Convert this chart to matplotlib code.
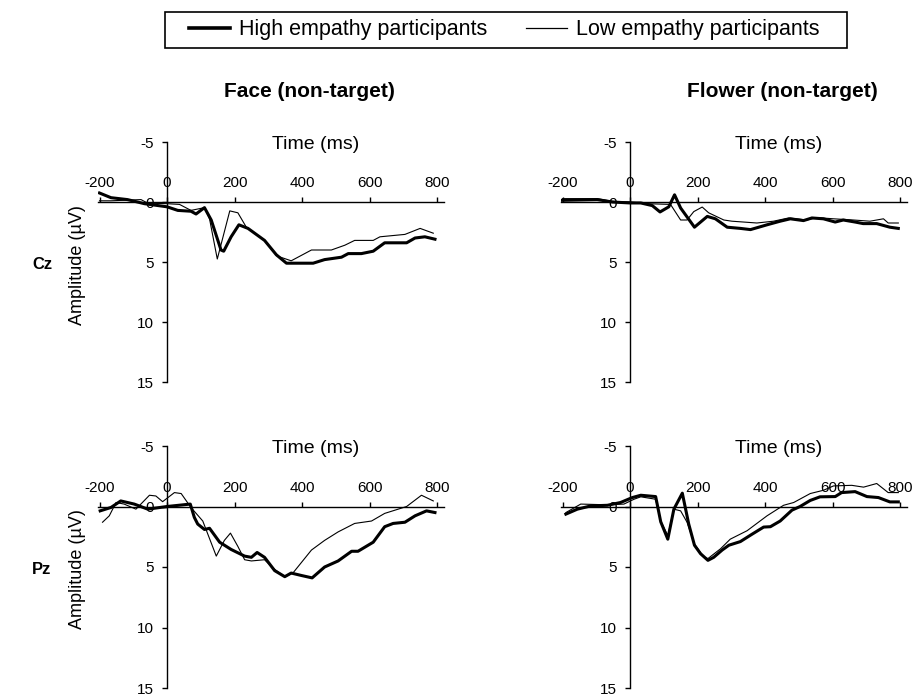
import matplotlib
matplotlib.use('Agg')
import matplotlib.pyplot as plt
from matplotlib.lines import Line2D
from matplotlib.patches import Rectangle

plt.rcParams['font.family'] = ['Liberation Sans', 'DejaVu Sans']
plt.rcParams['axes.unicode_minus'] = False

# Face (non-target), Cz
face_cz_high_t = [-200, -166, -117, -67, 0, 32, 71, 86, 111, 131, 160, 168, 190, 213, 240, 289,
                  324, 354, 388, 433, 467, 517, 537, 576, 611, 645, 710, 735, 764, 794]
face_cz_high = [-0.75, -0.36, -0.2, 0.14, 0.4, 0.7, 0.77, 1.0, 0.47, 1.5, 4.0, 4.1, 2.9, 1.9, 2.2, 3.2,
                4.4, 5.1, 5.1, 5.1, 4.8, 4.6, 4.3, 4.3, 4.1, 3.4, 3.4, 3.0, 2.9, 3.1]
face_cz_low_t = [-200, -166, -77, -57, 0, 37, 71, 111, 126, 149, 186, 210, 235, 289, 326, 368,
                 428, 487, 527, 556, 611, 631, 705, 750, 789]
face_cz_low = [-0.1, -0.1, -0.2, 0.1, 0.14, 0.2, 0.7, 0.47, 1.4, 4.75, 0.74, 0.9, 2.1, 3.2, 4.5, 4.9,
               4.0, 4.0, 3.6, 3.2, 3.2, 2.9, 2.7, 2.2, 2.6]

# Flower (non-target), Cz
flower_cz_high_t = [-200, -97, -52, 0, 32, 66, 89, 115, 132, 150, 191, 229, 253, 288, 327, 357,
                    406, 445, 475, 514, 539, 573, 608, 632, 667, 691, 731, 770, 795]
flower_cz_high = [-0.14, -0.2, 0.0, 0.08, 0.08, 0.3, 0.83, 0.4, -0.6, 0.5, 2.1, 1.2, 1.4, 2.1, 2.2, 2.3,
                  1.9, 1.6, 1.4, 1.55, 1.33, 1.4, 1.67, 1.5, 1.67, 1.8, 1.8, 2.1, 2.2]
flower_cz_low_t = [-200, -97, -52, 0, 61, 120, 150, 169, 189, 214, 233, 278, 302, 376, 425, 470,
                   524, 554, 603, 662, 711, 751, 765, 795]
flower_cz_low = [-0.28, -0.28, -0.05, 0.0, 0.15, 0.2, 1.5, 1.5, 0.8, 0.42, 0.9, 1.5, 1.6, 1.75, 1.6, 1.33,
                 1.5, 1.3, 1.4, 1.5, 1.6, 1.4, 1.75, 1.75]

# Face (non-target), Pz
face_pz_high_t = [-198, -166, -137, -97, -57, 0, 69, 81, 91, 111, 126, 156, 190, 230, 250, 267, 289,
                  319, 349, 368, 398, 430, 467, 507, 547, 566, 611, 645, 670, 705, 735, 769, 794]
face_pz_high = [0.36, 0.08, -0.46, -0.2, 0.22, 0.0, -0.2, 0.9, 1.45, 1.9, 1.8, 2.95, 3.55, 4.1, 4.2, 3.8, 4.2,
                5.3, 5.8, 5.5, 5.7, 5.9, 5.0, 4.5, 3.7, 3.7, 2.95, 1.67, 1.4, 1.3, 0.77, 0.36, 0.5]
face_pz_low_t = [-191, -171, -151, -127, -92, -52, -33, -13, 22, 42, 71, 106, 146, 170, 188, 210, 230,
                 250, 289, 319, 349, 373, 428, 467, 507, 556, 606, 645, 710, 754, 789]
face_pz_low = [1.3, 0.77, -0.33, -0.2, 0.22, -0.93, -0.87, -0.4, -1.15, -1.07, 0.08, 1.2, 4.1, 2.8, 2.2, 3.3, 4.4,
               4.5, 4.4, 5.2, 5.8, 5.5, 3.6, 2.8, 2.1, 1.4, 1.2, 0.57, 0.0, -0.93, -0.46]

# Flower (non-target), Pz
flower_pz_high_t = [-190, -156, -116, -67, -28, 7, 32, 76, 91, 112, 130, 155, 174, 191, 209, 231, 248,
                    273, 293, 327, 361, 396, 416, 445, 480, 504, 534, 563, 608, 627, 667, 702, 736, 770, 795]
flower_pz_high = [0.63, 0.22, -0.05, -0.1, -0.33, -0.74, -0.93, -0.82, 1.26, 2.7, 0.22, -1.1, 1.45, 3.2, 3.9,
                  4.45, 4.2, 3.6, 3.2, 2.9, 2.3, 1.7, 1.67, 1.2, 0.3, 0.0, -0.5, -0.8, -0.82, -1.15, -1.23,
                  -0.82, -0.74, -0.38, -0.38]
flower_pz_low_t = [-190, -146, -67, -18, 12, 32, 76, 91, 112, 130, 150, 169, 191, 219, 231, 268, 297,
                   347, 406, 455, 485, 534, 573, 603, 657, 692, 731, 765, 795]
flower_pz_low = [0.5, -0.2, -0.14, -0.2, -0.6, -0.8, -0.6, 1.2, 2.4, 0.22, 0.36, 1.3, 3.1, 4.2, 4.3, 3.5, 2.7,
                 2.0, 0.77, -0.1, -0.33, -1.07, -1.34, -1.7, -1.75, -1.6, -1.9, -1.15, -1.15]

x_ticks = [-200, 0, 200, 400, 600, 800]
y_ticks = [-5, 0, 5, 10, 15]

W, H = 921, 694
PX_PER_MS = 0.3375


def make_axes(fig, zero_px, top_px, bottom_px):
    left_px = zero_px - 205 * PX_PER_MS
    ax = fig.add_axes([left_px / W, 1 - bottom_px / H, 1025 * PX_PER_MS / W, (bottom_px - top_px) / H])
    ax.set_xlim(-205, 820)
    ax.set_ylim(15, -5)
    ax.spines['bottom'].set_visible(False)
    ax.spines['right'].set_visible(False)
    ax.spines['top'].set_position(('data', 0))
    ax.spines['left'].set_position(('data', 0))
    ax.spines['top'].set_linewidth(1.0)
    ax.spines['left'].set_linewidth(1.0)
    ax.xaxis.tick_top()
    ax.set_xticks(x_ticks)
    ax.set_yticks(y_ticks)
    ax.tick_params(axis='x', direction='out', length=3.5, width=1.0, pad=5, labelsize=11)
    ax.tick_params(axis='y', direction='out', length=3.5, width=1.0, pad=6, labelsize=11)
    ax.patch.set_visible(False)
    ax.text(440, -4.8, 'Time (ms)', ha='center', va='center', fontsize=14)
    return ax


def draw(ax, th, yh, tl, yl):
    ax.plot(tl, yl, color='black', linewidth=0.8, zorder=3)
    ax.plot(th, yh, color='black', linewidth=2.2, zorder=4)


fig = plt.figure(figsize=(W / 100, H / 100), dpi=100)

ax1 = make_axes(fig, 167, 142, 382)
ax2 = make_axes(fig, 630, 142, 382)
ax3 = make_axes(fig, 167, 446, 688)
ax4 = make_axes(fig, 630, 446, 688)

draw(ax1, face_cz_high_t, face_cz_high, face_cz_low_t, face_cz_low)
draw(ax2, flower_cz_high_t, flower_cz_high, flower_cz_low_t, flower_cz_low)
draw(ax3, face_pz_high_t, face_pz_high, face_pz_low_t, face_pz_low)
draw(ax4, flower_pz_high_t, flower_pz_high, flower_pz_low_t, flower_pz_low)

ax1.text(422, -9.2, 'Face (non-target)', ha='center', va='center', fontsize=15,
         fontweight='bold', clip_on=False)
ax2.text(450, -9.2, 'Flower (non-target)', ha='center', va='center', fontsize=15,
         fontweight='bold', clip_on=False)

fig.text(42 / W, 1 - 265 / H, 'Cz', ha='center', va='center', fontsize=12, fontweight='bold')
fig.text(42 / W, 1 - 569 / H, 'Pz', ha='center', va='center', fontsize=12, fontweight='bold')
fig.text(77 / W, 1 - 265 / H, 'Amplitude (\u00b5V)', ha='center', va='center', rotation=90, fontsize=13)
fig.text(77 / W, 1 - 569 / H, 'Amplitude (\u00b5V)', ha='center', va='center', rotation=90, fontsize=13)

# legend frame drawn separately so its padding matches the reference
fig.patches.append(Rectangle((165 / W, 1 - 48 / H), 682 / W, 36 / H, transform=fig.transFigure,
                             fill=False, edgecolor='black', linewidth=1.2))
handles = [Line2D([], [], color='black', linewidth=2.6),
           Line2D([], [], color='black', linewidth=0.9)]
leg = fig.legend(handles, ['High empathy participants', 'Low empathy participants'],
                 loc='center left', bbox_to_anchor=(189 / W, 1 - 30 / H), ncol=2, frameon=False,
                 fontsize=15.5, handlelength=1.9, handletextpad=0.42,
                 columnspacing=1.8, borderpad=0, borderaxespad=0)

fig.savefig('out.png', dpi=100)
